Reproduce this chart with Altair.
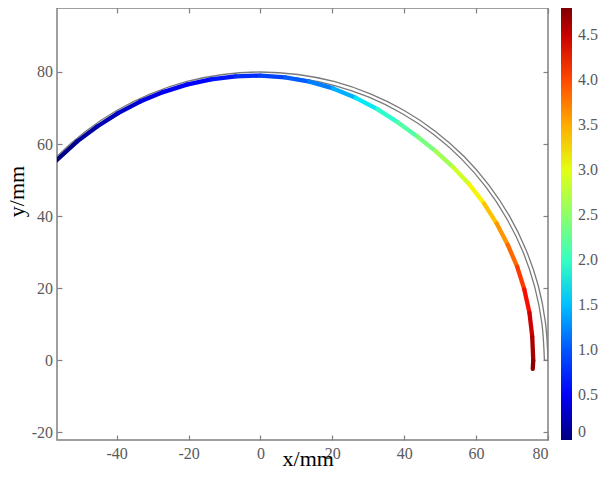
import altair as alt
import pandas as pd

# deformed centre line of the ring (x, y in mm) and its value
curve_x = [-57.11, -50.97, -45.43, -39.60, -33.47, -27.09, -20.50, -13.74, -6.89, 0.0,
           6.87, 13.63, 20.21, 26.51, 32.50, 38.15, 43.54, 48.72, 53.60, 58.14,
           62.18, 65.73, 68.79, 71.42, 73.41, 74.84, 75.61, 75.90, 75.76]
curve_y = [55.16, 60.74, 64.88, 68.59, 71.78, 74.42, 76.50, 77.95, 78.80, 79.00,
           78.50, 77.31, 75.44, 72.83, 69.69, 66.08, 62.18, 58.06, 53.60, 48.79,
           43.54, 37.95, 32.08, 25.99, 19.67, 13.19, 6.62, 0.0, -2.38]
curve_v = [0.0, 0.10, 0.18, 0.27, 0.36, 0.45, 0.55, 0.65, 0.75, 0.86,
           0.98, 1.10, 1.30, 1.55, 1.82, 2.05, 2.25, 2.50, 2.75, 3.00,
           3.25, 3.50, 3.72, 3.95, 4.20, 4.40, 4.55, 4.70, 4.80]

# undeformed ring outline (outer and inner edge)
outer_x = [80.0, 79.3, 77.3, 73.9, 69.3, 63.5, 56.6, 48.7, 40.0, 30.6, 20.7, 10.4, 0.0,
           -10.4, -20.7, -30.6, -40.0, -48.7, -56.6, -63.5]
outer_y = [0.0, 10.4, 20.7, 30.6, 40.0, 48.7, 56.6, 63.5, 69.3, 73.9, 77.3, 79.3, 80.0,
           79.3, 77.3, 73.9, 69.3, 63.5, 56.6, 48.7]
inner_x = [79.0, 78.3, 76.3, 73.0, 68.4, 62.7, 55.9, 48.1, 39.5, 30.2, 20.4, 10.3, 0.0,
           -10.3, -20.4, -30.2, -39.5, -48.1, -55.9, -62.7]
inner_y = [0.0, 10.3, 20.4, 30.2, 39.5, 48.1, 55.9, 62.7, 68.4, 73.0, 76.3, 78.3, 79.0,
           78.3, 76.3, 73.0, 68.4, 62.7, 55.9, 48.1]
cap_x = [79.0, 80.0]
cap_y = [0.0, 0.0]

x_ticks = [-40, -20, 0, 20, 40, 60, 80]
y_ticks = [-20, 0, 20, 40, 60, 80]
cbar_ticks = [0, 0.5, 1.0, 1.5, 2.0, 2.5, 3.0, 3.5, 4.0, 4.5]

# jet colour map over the colour bar range 0 .. 4.8
jet_stops = [0, 0.53, 0.6, 1.63, 1.8, 3.07, 3.17, 4.27, 4.37, 4.8]
jet_colors = ["#00007F", "#0000FF", "#0000FF", "#00DBFF", "#14FFE2", "#EFFF08",
              "#FFED00", "#FF1300", "#E80000", "#7F0000"]

rows = []
for part, xs_, ys_ in (("outer", outer_x, outer_y), ("inner", inner_x, inner_y), ("cap", cap_x, cap_y)):
    for i, (a, b) in enumerate(zip(xs_, ys_)):
        rows.append({"x": a, "y": b, "i": i, "part": part})
ring = pd.DataFrame(rows)

seg = pd.DataFrame({
    "x": curve_x[:-1], "y": curve_y[:-1],
    "x2": curve_x[1:], "y2": curve_y[1:],
    "v": [(a + b) / 2 for a, b in zip(curve_v[:-1], curve_v[1:])],
})

GRAY = "#808080"
LABEL = "#595959"
FONT = "Liberation Serif"

xs = alt.Scale(domain=[-56.6, 80], nice=False, zero=False)
ys = alt.Scale(domain=[-22.1, 97.75], nice=False, zero=False)

common = dict(domain=False, grid=False, tickSize=5, tickColor=GRAY, tickWidth=1.2, offset=-5,
              labelFont=FONT, labelFontSize=16, labelColor=LABEL,
              titleFont=FONT, titleFontSize=22, titleColor="black", titleFontWeight="normal")

ring_chart = alt.Chart(ring).mark_line(
    clip=True, color="#7a7a7a", strokeWidth=1.3, interpolate="catmull-rom"
).encode(
    x=alt.X("x:Q", scale=xs, axis=alt.Axis(orient="bottom", values=x_ticks, title="x/mm",
                                           labelPadding=5, labelExpr="'' + datum.value",
                                           titleX=250.7, titleY=30, titleBaseline="alphabetic",
                                           titleAlign="center", **common)),
    y=alt.Y("y:Q", scale=ys, axis=alt.Axis(orient="left", values=y_ticks, title="y/mm",
                                           labelPadding=4.5, labelExpr="'' + datum.value",
                                           titleX=-38.5, titleY=183, titleAngle=270,
                                           titleBaseline="alphabetic", titleAlign="center",
                                           **common)),
    detail="part:N",
    order="i:Q",
)

seg_chart = alt.Chart(seg).mark_rule(clip=True, strokeWidth=4.3, strokeCap="round").encode(
    x=alt.X("x:Q", scale=xs, axis=alt.Axis(orient="top", values=x_ticks, labels=False, title=None, **common)),
    y=alt.Y("y:Q", scale=ys, axis=alt.Axis(orient="right", values=y_ticks, labels=False, title=None, **common)),
    x2="x2:Q",
    y2="y2:Q",
    color=alt.Color("v:Q", scale=alt.Scale(domain=jet_stops, range=jet_colors, interpolate="rgb"),
                    legend=alt.Legend(title=None, orient="right", offset=12, padding=0,
                                      direction="vertical", gradientLength=432, gradientThickness=11,
                                      gradientStrokeWidth=0, values=cbar_ticks,
                                      labelExpr="datum.value == 0 ? '0' : format(datum.value, '.1f')",
                                      labelFont=FONT, labelFontSize=16, labelColor=LABEL,
                                      labelOffset=6, labelOverlap=False, labelBaseline="middle")),
)

chart = alt.layer(ring_chart, seg_chart).resolve_axis(
    x="independent", y="independent"
).properties(
    width=491, height=432,
    autosize=alt.AutoSizeParams(type="none"),
    padding={"left": 49, "top": 0, "right": 50, "bottom": 29},
).configure_view(stroke=GRAY, strokeWidth=1.5)

chart.save("out.html", embed_options={"renderer": "svg", "actions": False})
